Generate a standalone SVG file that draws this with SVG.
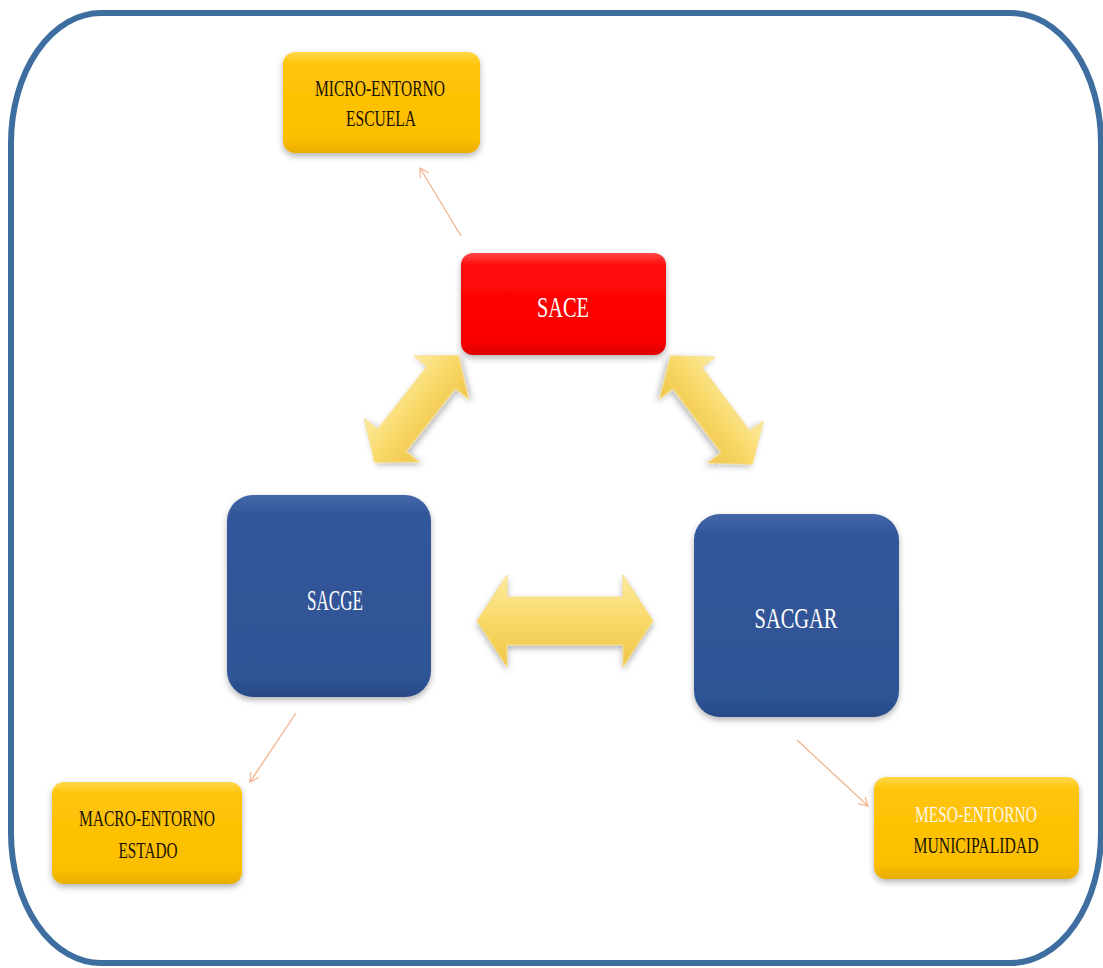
<svg xmlns="http://www.w3.org/2000/svg" width="1103" height="968" viewBox="0 0 1103 968">
  <defs>
    <style>
      .lbl { font-family: "Liberation Serif", "Times New Roman", serif; text-anchor: middle; }
      .dark { fill: #1a1200; font-size: 24px; }
      .light { fill: #fff8e8; font-size: 24px; }
      .big { fill: #ffffff; font-size: 30px; }
      .link { fill: none; stroke: #f2b48c; stroke-width: 1.3; marker-end: url(#openHead); }
      .dbl { fill: url(#gArrow); stroke: #f5dc8a; stroke-width: 1; filter: url(#shadow); }
    </style>
    <linearGradient id="gYellow" x1="0" y1="0" x2="0" y2="1">
      <stop offset="0" stop-color="#ffd84a"/>
      <stop offset="0.12" stop-color="#ffc40a"/>
      <stop offset="0.85" stop-color="#fcbf00"/>
      <stop offset="1" stop-color="#e9ad00"/>
    </linearGradient>
    <linearGradient id="gRed" x1="0" y1="0" x2="0" y2="1">
      <stop offset="0" stop-color="#ff4a4a"/>
      <stop offset="0.12" stop-color="#ff0a0a"/>
      <stop offset="0.85" stop-color="#fb0000"/>
      <stop offset="1" stop-color="#dd0000"/>
    </linearGradient>
    <linearGradient id="gBlue" x1="0" y1="0" x2="0" y2="1">
      <stop offset="0" stop-color="#4467a8"/>
      <stop offset="0.1" stop-color="#32569a"/>
      <stop offset="0.9" stop-color="#2f5496"/>
      <stop offset="1" stop-color="#284a86"/>
    </linearGradient>
    <linearGradient id="gArrow" x1="0" y1="0" x2="0" y2="1">
      <stop offset="0" stop-color="#fdeba0"/>
      <stop offset="0.5" stop-color="#f8d867"/>
      <stop offset="1" stop-color="#f0c64a"/>
    </linearGradient>
    <filter id="shadow" x="-20%" y="-20%" width="140%" height="150%">
      <feDropShadow dx="0" dy="3" stdDeviation="3" flood-color="#000" flood-opacity="0.3"/>
    </filter>
    <marker id="openHead" viewBox="0 0 10 10" refX="9" refY="5" markerWidth="10" markerHeight="10" markerUnits="userSpaceOnUse" orient="auto">
      <path d="M0,0 L9,5 L0,10" fill="none" stroke="#f2b48c" stroke-width="1.2"/>
    </marker>
    <!-- double-headed block arrow shapes, centred on the origin along x -->
    <polygon id="dblLong" points="-88,0 -58,-46 -58,-24 58,-24 58,-46 88,0 58,46 58,24 -58,24 -58,46"/>
    <polygon id="dblShort" points="-68,0 -40,-35 -40,-18 40,-18 40,-35 68,0 40,35 40,18 -40,18 -40,35"/>
  </defs>

  <rect width="1103" height="968" fill="#ffffff"/>

  <!-- outer frame -->
  <rect x="11" y="13" width="1090" height="950" rx="90" ry="130" fill="none" stroke="#3e6ea0" stroke-width="6"/>

  <!-- connectors -->
  <g id="connectors">
    <line class="link" x1="461" y1="236" x2="420" y2="168"/>
    <line class="link" x1="296" y1="713" x2="250" y2="782"/>
    <line class="link" x1="797" y1="740" x2="868" y2="806"/>
    <use class="dbl" href="#dblLong" transform="translate(565,621)"/>
    <use class="dbl" href="#dblShort" transform="translate(416.5,409) rotate(-51.9)"/>
    <use class="dbl" href="#dblShort" transform="translate(711.5,410) rotate(53)"/>
  </g>

  <g id="micro">
    <rect x="283" y="52" width="197" height="101" rx="12" fill="url(#gYellow)" filter="url(#shadow)"/>
    <text class="lbl dark" x="380" y="96" textLength="130" lengthAdjust="spacingAndGlyphs">MICRO-ENTORNO</text>
    <text class="lbl dark" x="381" y="126" textLength="70" lengthAdjust="spacingAndGlyphs">ESCUELA</text>
  </g>

  <g id="sace">
    <rect x="461" y="253" width="205" height="102" rx="12" fill="url(#gRed)" filter="url(#shadow)"/>
    <text class="lbl big" x="563" y="317" font-size="27" textLength="52" lengthAdjust="spacingAndGlyphs">SACE</text>
  </g>

  <g id="sacge">
    <rect x="227" y="495" width="204" height="202" rx="26" fill="url(#gBlue)" filter="url(#shadow)"/>
    <text class="lbl big" x="335" y="610" textLength="56" lengthAdjust="spacingAndGlyphs">SACGE</text>
  </g>

  <g id="sacgar">
    <rect x="694" y="514" width="205" height="203" rx="26" fill="url(#gBlue)" filter="url(#shadow)"/>
    <text class="lbl big" x="796" y="628" textLength="83" lengthAdjust="spacingAndGlyphs">SACGAR</text>
  </g>

  <g id="macro">
    <rect x="52" y="782" width="190" height="102" rx="12" fill="url(#gYellow)" filter="url(#shadow)"/>
    <text class="lbl dark" x="147" y="826" textLength="136" lengthAdjust="spacingAndGlyphs">MACRO-ENTORNO</text>
    <text class="lbl dark" x="148" y="858" textLength="59" lengthAdjust="spacingAndGlyphs">ESTADO</text>
  </g>

  <g id="meso">
    <rect x="874" y="777" width="205" height="102" rx="12" fill="url(#gYellow)" filter="url(#shadow)"/>
    <text class="lbl light" x="976" y="822" textLength="122" lengthAdjust="spacingAndGlyphs">MESO-ENTORNO</text>
    <text class="lbl dark" x="976" y="853" textLength="125" lengthAdjust="spacingAndGlyphs">MUNICIPALIDAD</text>
  </g>
</svg>
